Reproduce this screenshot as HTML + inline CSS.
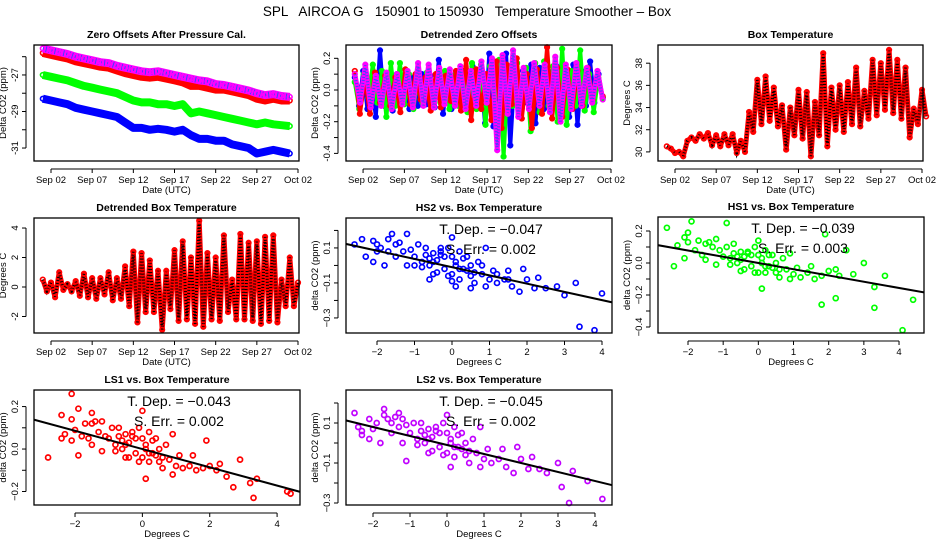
<!DOCTYPE html>
<html><head><meta charset="utf-8"><style>
html,body{margin:0;padding:0;background:#fff;width:936px;height:540px;overflow:hidden}
svg{display:block;font-family:"Liberation Sans",sans-serif}
</style></head><body>
<svg id="chart" width="936" height="540" viewBox="0 0 936 540" xmlns="http://www.w3.org/2000/svg">
<rect width="936" height="540" fill="#fff"/>
<text x="467" y="16" font-size="13.5" text-anchor="middle" style="white-space:pre">SPL   AIRCOA G   150901 to 150930   Temperature Smoother – Box</text>
</svg>
<script>
// ---------- data ----------
const dateTicks = [1, 6, 11, 16, 21, 26, 31];
const dateTickLabels = ["Sep 02", "Sep 07", "Sep 12", "Sep 17", "Sep 22", "Sep 27", "Oct 02"];

// Panel 1: zero offsets (daily, day 0..30)
const zeroBlue = [-28.3,-28.4,-28.5,-28.6,-28.8,-28.9,-29.0,-29.1,-29.2,-29.3,-29.6,-29.9,-29.9,-30.0,-29.95,-30.0,-30.1,-30.0,-30.3,-30.5,-30.5,-30.6,-30.6,-30.8,-30.9,-31.0,-31.3,-31.2,-31.1,-31.2,-31.3];
const zeroGreen = [-27.0,-27.1,-27.2,-27.3,-27.45,-27.6,-27.7,-27.8,-27.9,-28.0,-28.2,-28.4,-28.5,-28.5,-28.6,-28.6,-28.7,-28.6,-29.1,-29.0,-29.1,-29.2,-29.3,-29.4,-29.5,-29.6,-29.7,-29.6,-29.7,-29.75,-29.8];
const zeroRed = [-25.8,-25.9,-26.0,-26.1,-26.25,-26.35,-26.45,-26.55,-26.6,-26.75,-26.9,-27.0,-27.1,-27.15,-27.1,-27.2,-27.3,-27.4,-27.6,-27.6,-27.7,-27.8,-27.8,-27.9,-28.0,-28.1,-28.3,-28.4,-28.3,-28.4,-28.4];
const zeroPurple = [-25.55,-25.65,-25.75,-25.85,-26.0,-26.1,-26.2,-26.3,-26.35,-26.5,-26.6,-26.7,-26.8,-26.85,-26.8,-26.9,-27.0,-27.1,-27.2,-27.3,-27.35,-27.5,-27.55,-27.65,-27.75,-27.85,-28.0,-28.1,-28.05,-28.15,-28.2];

// Panel 2: detrended offsets
const detBlue = [.08,-.10,.12,-.12,.07,-.17,.25,-.10,.09,-.13,.10,-.08,.06,-.12,.08,-.10,.10,-.09,.09,-.11,.19,-.15,.08,-.12,.10,-.10,.12,-.10,.15,-.09,.06,-.21,.23,-.23,.10,-.08,.23,-.35,.10,-.15,.12,-.08,.16,-.21,.14,-.12,.12,-.10,.15,-.12,.13,-.17,.16,-.22,.12,-.10,.18,-.08,.10,-.05];
const detGreen = [.05,-.12,.10,-.05,.16,-.08,.12,-.17,.17,-.10,.17,-.09,.10,-.12,.09,-.08,.11,-.10,.10,-.08,.12,-.12,.09,-.10,.10,-.14,.17,-.12,.16,-.22,.15,-.08,.19,-.42,.15,-.10,.17,-.12,.14,-.26,.17,-.14,.18,-.10,.15,-.20,.26,-.22,.12,-.10,.25,-.13,.10,-.14,.08,-.05];
const detRed = [.12,-.15,.07,-.15,.11,-.08,.09,-.10,.08,-.14,.13,-.09,.10,-.06,.08,-.13,.10,-.11,.09,-.07,.12,-.13,.19,-.19,.13,-.12,.10,-.19,.18,-.24,.16,-.09,.20,-.18,.10,-.24,.13,-.15,.27,-.18,.14,-.17,.13,-.12,.12,-.10,.14,-.06,.09,-.04];
const detPurple = [.10,-.08,.16,-.11,.09,-.10,.11,-.12,.10,-.09,.12,-.11,.17,-.10,.16,-.11,.14,-.09,.13,-.10,.15,-.12,.12,-.10,.18,-.08,.20,-.38,.22,-.15,.25,-.17,.14,-.12,.17,-.10,.16,-.14,.21,-.20,.16,-.12,.17,-.10,.14,-.08,.12,-.06];

// Panel 3: box temperature (half-day)
const boxTemp = [30.5,30.3,29.9,30.0,29.6,31.0,31.3,31.0,31.6,31.2,31.7,30.6,31.5,30.5,31.6,30.6,31.6,29.9,31.0,30.0,33.6,31.8,36.5,32.5,36.8,32.8,35.8,32.3,34.2,30.2,34.0,31.5,35.6,31.2,35.4,29.6,34.5,31.5,38.9,30.5,35.8,32.0,36.0,31.8,36.3,32.5,37.6,32.3,35.5,33.0,38.3,33.3,38.0,33.8,39.2,33.5,38.3,33.0,37.6,31.3,33.9,32.5,35.6,33.2];
// Panel 4: detrended box temperature (half-day)
const detTemp = [0.5,-0.3,0.3,-0.7,1.0,-0.2,0.2,-0.3,0.4,-0.6,0.9,-0.7,0.6,-0.8,0.6,-0.5,1.0,-0.9,0.6,-0.8,1.4,-1.3,2.4,-2.4,2.3,-1.7,1.8,-1.7,1.1,-2.9,1.1,-1.5,2.5,-2.3,3.1,-2.2,2.0,-2.5,4.5,-2.7,2.3,-2.2,2.0,-2.3,3.5,-1.7,0.5,-2.2,3.6,-2.2,3.0,-2.3,3.1,-2.5,3.4,-2.3,3.5,-2.4,0.5,-1.3,2.0,-1.3,0.3];

// Scatter panels
const hs2X = [-2.6,-2.3,-2.4,-2.1,-2.0,-2.1,-1.9,-1.8,-1.7,-1.6,-1.5,-1.5,-1.3,-1.2,-1.2,-1.1,-1.0,-0.9,-0.8,-0.7,-0.6,-0.5,-0.5,-0.4,-0.3,-0.2,-0.1,0,0,0.1,0.2,0.3,0.4,0.5,0.6,0.7,0.8,0.9,1.0,1.1,1.2,1.4,1.5,1.6,1.8,1.9,2.0,2.2,2.3,2.5,2.8,3.0,3.3,3.4,3.8,4.0,-0.3,0.0,0.2,-0.8,-1.4,0.5,-0.6,0.1,0.9,-0.5,-0.2,0.1,0.3,-0.4,0.4,-0.1,0.6,-0.7,0.2,-0.3,0.0,0.8,-1.0,1.2,-1.7,-2.0,1.5,0.5,-0.6];
const hs2Y = [.12,.05,.15,.14,.08,.02,.10,.00,.15,.18,.12,.05,.08,.18,.00,.09,.05,.12,.02,.10,.00,.07,-.05,.03,.06,-.02,.10,.16,-.05,.02,-.08,.04,-.03,.00,-.10,.02,-.05,.10,-.08,-.03,-.10,-.08,-.03,-.12,-.15,-.02,-.08,-.13,-.07,-.13,-.12,-.17,-.10,-.35,-.37,-.16,.08,.05,-.02,-.01,.13,-.06,.04,-.12,-.12,.02,.05,.00,-.02,-.04,.05,-.06,-.04,.06,.08,.10,-.09,.00,.00,-.05,.08,.12,-.08,-.13,-.08];
const hs1X = [-2.6,-2.3,-2.4,-2.1,-2.0,-2.1,-1.9,-1.8,-1.7,-1.6,-1.5,-1.5,-1.3,-1.2,-1.2,-1.1,-1.0,-0.9,-0.8,-0.7,-0.6,-0.5,-0.5,-0.4,-0.3,-0.2,-0.1,0,0,0.1,0.2,0.3,0.4,0.5,0.6,0.7,0.8,0.9,1.0,1.1,1.2,1.4,1.5,1.6,1.8,1.9,2.0,2.2,2.3,2.5,2.7,3.0,3.3,3.6,4.1,4.4,-0.3,0.0,0.2,-0.8,-1.4,0.5,-0.6,0.1,0.9,-0.5,-0.2,0.1,0.3,-0.4,0.4,-0.1,0.6,-0.7,0.2,1.8,2.2,3.3,-0.9,-2.0];
const hs1Y = [.22,.11,-.02,.16,.13,.03,.26,.08,.14,.05,.12,.02,.10,.15,-.01,.08,.04,.10,.03,.12,.00,.07,-.05,.04,.06,-.02,.10,.14,-.06,.03,-.06,.05,-.03,.00,-.09,.03,-.04,.06,-.07,-.03,-.09,-.06,-.02,-.10,-.08,.18,-.05,-.04,-.08,.08,-.07,.00,-.15,-.08,-.42,-.23,.07,.05,-.02,-.01,.13,-.06,.04,-.16,-.10,.02,.05,.00,-.02,-.04,.05,-.06,-.04,.06,.08,-.26,-.22,-.28,.25,.19];
const ls1X = [-2.4,-2.3,-2.4,-2.1,-2.0,-2.1,-1.9,-1.8,-1.7,-1.6,-1.5,-1.5,-1.3,-1.2,-1.2,-1.1,-1.0,-0.9,-0.8,-0.7,-0.6,-0.5,-0.5,-0.4,-0.3,-0.2,-0.1,0,0,0.1,0.2,0.3,0.4,0.5,0.6,0.7,0.8,0.9,1.0,1.1,1.2,1.4,1.5,1.6,1.8,1.9,2.0,2.2,2.3,2.5,2.7,2.9,3.2,3.4,4.3,4.4,-0.3,0.0,0.2,-0.8,-1.4,0.5,-0.6,0.1,0.9,-0.5,-0.2,0.1,0.3,-0.4,0.4,-0.1,0.6,-0.7,0.2,-2.8,-2.1,3.3,-1.9,-1.5];
const ls1Y = [.16,.07,.05,.14,.09,.04,.19,.06,.12,.05,.12,.02,.08,.13,-.01,.06,.05,.10,.02,.10,.00,.07,-.04,.03,.06,-.02,.10,.18,-.04,.02,-.06,.04,-.03,.00,-.09,.02,-.05,.07,-.08,-.03,-.09,-.08,-.03,-.10,-.09,.04,-.08,-.10,-.07,-.13,-.18,-.05,-.16,-.14,-.20,-.21,.08,.05,-.02,-.01,.13,-.06,.04,-.14,-.12,.02,.05,.00,-.02,-.04,.05,-.06,-.04,.06,.08,-.04,.26,-.23,-.03,.17];
const ls2X = [-2.5,-2.3,-2.4,-2.1,-2.0,-2.1,-1.9,-1.8,-1.7,-1.6,-1.5,-1.5,-1.3,-1.2,-1.2,-1.1,-1.0,-0.9,-0.8,-0.7,-0.6,-0.5,-0.5,-0.4,-0.3,-0.2,-0.1,0,0,0.1,0.2,0.3,0.4,0.5,0.6,0.7,0.8,0.9,1.0,1.1,1.2,1.4,1.5,1.6,1.8,1.9,2.0,2.2,2.3,2.5,2.7,3.0,3.1,3.4,3.8,4.2,-0.3,0.0,0.2,-0.8,-1.4,0.5,-0.6,0.1,0.9,-0.5,-0.2,0.1,0.3,-0.4,0.4,-0.1,0.6,-0.7,0.2,3.3,-1.7,-1.3,-1.1,-2.3];
const ls2Y = [.15,.04,.08,.12,.07,.02,.10,.00,.14,.12,.10,.05,.08,.12,.00,.09,.05,.10,.02,.10,.00,.07,-.05,.03,.06,-.02,.10,.14,-.05,.02,-.07,.04,-.03,.00,-.10,.02,-.05,.08,-.08,-.03,-.10,-.08,-.03,-.12,-.15,-.02,-.08,-.13,-.07,-.13,-.15,-.10,-.22,-.14,-.19,-.28,.08,.05,-.02,-.01,.13,-.06,.04,-.12,-.12,.02,.05,.00,-.02,-.04,.05,-.06,-.04,.06,.08,-.30,.17,.15,-.09,.06];

const fits = {hs2:[-0.01,-0.047], hs1:[0.0,-0.039], ls1:[0.0,-0.043], ls2:[-0.01,-0.045]};

// ---------- helpers ----------
const NS = "http://www.w3.org/2000/svg";
const svg = document.getElementById("chart");
function mk(tag, attrs, parent) {
  const e = document.createElementNS(NS, tag);
  for (const k in attrs) e.setAttribute(k, attrs[k]);
  (parent || svg).appendChild(e);
  return e;
}
function panel(name, box, xd, yd) {
  const g = mk("g", {});
  
  
  const sx = v => box[0] + (v - xd[0]) / (xd[1] - xd[0]) * (box[2] - box[0]);
  const sy = v => box[3] - (v - yd[0]) / (yd[1] - yd[0]) * (box[3] - box[1]);
  return {g, sx, sy, box};
}
function frame(p, title) {
  const b = p.box;
  const r = mk("rect", {x:b[0], y:b[1], width:b[2]-b[0], height:b[3]-b[1], fill:"none", stroke:"#000", "stroke-width":1.3}, p.g);
  
  
  const t = mk("text", {x:(b[0]+b[2])/2, y:b[1]-7, "font-size":10.5, "font-weight":"bold", "text-anchor":"middle"}, p.g);
  t.textContent = title;
  
  
}
function xaxis(p, ticks, labels, title) {
  const y0 = p.box[3] + 8;
  const ax = mk("g", {}, p.g);
  
  
  mk("line", {x1:p.sx(ticks[0]), x2:p.sx(ticks[ticks.length-1]), y1:y0, y2:y0, stroke:"#000"}, ax);
  ticks.forEach((v, i) => {
    const x = p.sx(v);
    mk("line", {x1:x, x2:x, y1:y0, y2:y0+4, stroke:"#000"}, ax);
    if (labels[i] !== "") {
      const t = mk("text", {x:x, y:y0+14, "font-size":9.5, "text-anchor":"middle"}, ax);
      t.textContent = labels[i];
      
      
    }
  });
  const t = mk("text", {x:(p.box[0]+p.box[2])/2, y:y0+24, "font-size":9.5, "text-anchor":"middle"}, ax);
  t.textContent = title;
  
  
}
function yaxis(p, ticks, labels, title) {
  const x0 = p.box[0] - 8;
  const ax = mk("g", {}, p.g);
  
  
  mk("line", {x1:x0, x2:x0, y1:p.sy(ticks[0]), y2:p.sy(ticks[ticks.length-1]), stroke:"#000"}, ax);
  ticks.forEach((v, i) => {
    const y = p.sy(v);
    mk("line", {x1:x0-4, x2:x0, y1:y, y2:y, stroke:"#000"}, ax);
    if (labels[i] !== "") {
      const t = mk("text", {x:x0-8, y:y, "font-size":9.5, "text-anchor":"middle", transform:`rotate(-90 ${x0-8} ${y})`}, ax);
      t.textContent = labels[i];
      
      
    }
  });
  const cy = (p.box[1]+p.box[3])/2, cx = x0 - 20;
  const t = mk("text", {x:cx, y:cy, "font-size":9.5, "text-anchor":"middle", transform:`rotate(-90 ${cx} ${cy})`}, ax);
  t.textContent = title;
  
  
}
function series(p, vals, span, color, w, name, checker) {
  const step = span / (vals.length - 1);
  const pts = vals.map((v, i) => p.sx(i*step).toFixed(1) + "," + p.sy(v).toFixed(1)).join(" ");
  const l = mk("polyline", {points:pts, fill:"none", stroke:color, "stroke-width":w, "stroke-linejoin":"round"}, p.g);
  
  
  if (checker) {
    const c = mk("polyline", {points:pts, fill:"none", stroke:checker, "stroke-width":w-2, "stroke-dasharray":"1 2"}, p.g);
    
    
  }
  vals.forEach((v, i) => {
    const m = mk("circle", {cx:p.sx(i*step), cy:p.sy(v), r:2.3, fill:"none", stroke:color, "stroke-width":1.6}, p.g);
    
    
  });
}
function scatter(p, xs, ys, color, fit, dep, err) {
  xs.forEach((x, i) => {
    const m = mk("circle", {cx:p.sx(x), cy:p.sy(ys[i]), r:2.5, fill:"none", stroke:color, "stroke-width":1.7}, p.g);
    
    
  });
  const xa = -4, xb = 5;
  const cp = mk("clipPath", {id:"c"+p.box[0]+"_"+p.box[1]}, p.g);
  mk("rect", {x:p.box[0], y:p.box[1], width:p.box[2]-p.box[0], height:p.box[3]-p.box[1]}, cp);
  const l = mk("line", {x1:p.sx(xa), y1:p.sy(fit[0]+fit[1]*xa), x2:p.sx(xb), y2:p.sy(fit[0]+fit[1]*xb), stroke:"#000", "stroke-width":2, "clip-path":`url(#c${p.box[0]}_${p.box[1]})`}, p.g);
  
  
  const cx = (p.box[0]+p.box[2])/2 + 12;
  const t1 = mk("text", {x:cx, y:p.box[1]+16, "font-size":14, "text-anchor":"middle"}, p.g);
  t1.textContent = "T. Dep. =  " + dep;
  
  
  const t2 = mk("text", {x:cx, y:p.box[1]+36, "font-size":14, "text-anchor":"middle"}, p.g);
  t2.textContent = "S. Err. =  " + err;
  
  
}
const dayX = [-1.065, 31.12];

// Panel 1
let p = panel("zero-offsets-panel", [34,45,299,161], dayX, [-31.71,-25.36]);
series(p, zeroBlue, 30, "#0000ff", 8, "zero-offset-blue");
series(p, zeroGreen, 30, "#00ff00", 8, "zero-offset-green");
series(p, zeroRed, 30, "#ff0000", 8, "zero-offset-red");
series(p, zeroPurple, 30, "#ff00ff", 8, "zero-offset-purple", "#4040ff");
frame(p, "Zero Offsets After Pressure Cal.");
xaxis(p, dateTicks, dateTickLabels, "Date (UTC)");
yaxis(p, [-31,-30,-29,-28,-27,-26], ["-31","","-29","","-27",""], "Delta CO2 (ppm)");

// Panel 2
p = panel("detrended-offsets-panel", [346,45,612,161], dayX, [-0.448,0.284]);
series(p, detBlue, 30, "#0000ff", 4, "detrended-blue");
series(p, detGreen, 30, "#00ff00", 4, "detrended-green");
series(p, detRed, 30, "#ff0000", 4, "detrended-red");
series(p, detPurple, 30, "#ff00ff", 5, "detrended-purple", "#4040ff");
frame(p, "Detrended Zero Offsets");
xaxis(p, dateTicks, dateTickLabels, "Date (UTC)");
yaxis(p, [-0.4,-0.3,-0.2,-0.1,0,0.1,0.2], ["-0.4","","-0.2","","0.0","","0.2"], "Delta CO2 (ppm)");

// Panel 3
p = panel("box-temperature-panel", [658,45,923,161], dayX, [29.18,39.64]);
series(p, boxTemp, 31.5, "#ff0000", 5, "box-temperature", "#000");
frame(p, "Box Temperature");
xaxis(p, dateTicks, dateTickLabels, "Date (UTC)");
yaxis(p, [30,32,34,36,38], ["30","32","34","36","38"], "Degrees C");

// Panel 4
p = panel("detrended-box-temperature-panel", [34,218,299,333], dayX, [-3.12,4.68]);
series(p, detTemp, 31, "#ff0000", 5, "detrended-box-temperature", "#000");
frame(p, "Detrended Box Temperature");
xaxis(p, dateTicks, dateTickLabels, "Date (UTC)");
yaxis(p, [-2,0,2,4], ["-2","0","2","4"], "Degrees C");

// Panel 5 HS2
p = panel("hs2-scatter-panel", [346,218,612,333], [-2.827,4.267], [-0.386,0.271]);
scatter(p, hs2X, hs2Y, "#0000ff", fits.hs2, "\u22120.047", "0.002");
frame(p, "HS2 vs. Box Temperature");
xaxis(p, [-2,-1,0,1,2,3,4], ["\u22122","\u22121","0","1","2","3","4"], "Degrees C");
yaxis(p, [-0.3,-0.2,-0.1,0,0.1,0.2], ["\u22120.3","","\u22120.1","","0.1",""], "delta CO2 (ppm)");

// Panel 6 HS1
p = panel("hs1-scatter-panel", [658,217,924,333], [-2.853,4.71], [-0.4375,0.2875]);
scatter(p, hs1X, hs1Y, "#00ff00", fits.hs1, "\u22120.039", "0.003");
frame(p, "HS1 vs. Box Temperature");
xaxis(p, [-2,-1,0,1,2,3,4], ["\u22122","\u22121","0","1","2","3","4"], "Degrees C");
yaxis(p, [-0.4,-0.3,-0.2,-0.1,0,0.1,0.2], ["\u22120.4","","\u22120.2","","0.0","","0.2"], "delta CO2 (ppm)");

// Panel 7 LS1
p = panel("ls1-scatter-panel", [34,390,300,505], [-3.218,4.68], [-0.2635,0.278]);
scatter(p, ls1X, ls1Y, "#ff0000", fits.ls1, "\u22120.043", "0.002");
frame(p, "LS1 vs. Box Temperature");
xaxis(p, [-2,0,2,4], ["\u22122","0","2","4"], "Degrees C");
yaxis(p, [-0.2,-0.1,0,0.1,0.2], ["\u22120.2","","0.0","","0.2"], "delta CO2 (ppm)");

// Panel 8 LS2
p = panel("ls2-scatter-panel", [346,390,612,505], [-2.73,4.46], [-0.31,0.265]);
scatter(p, ls2X, ls2Y, "#c000ff", fits.ls2, "\u22120.045", "0.002");
frame(p, "LS2 vs. Box Temperature");
xaxis(p, [-2,-1,0,1,2,3,4], ["\u22122","\u22121","0","1","2","3","4"], "Degrees C");
yaxis(p, [-0.3,-0.2,-0.1,0,0.1,0.2], ["\u22120.3","","\u22120.1","","0.1",""], "delta CO2 (ppm)");
</script>
</body></html>
